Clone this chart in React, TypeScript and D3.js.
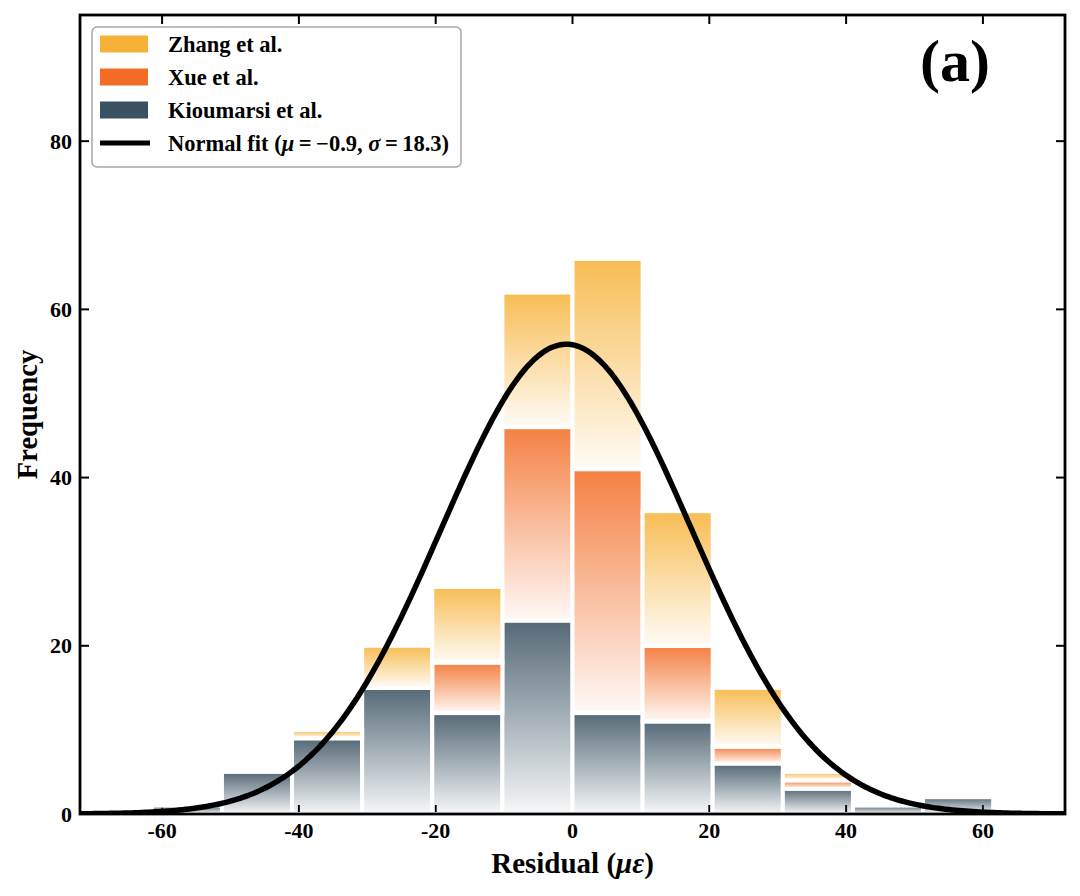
import * as d3 from "d3";

const WIDTH = 1080;
const HEIGHT = 896;
const MARGIN = { top: 15, right: 15, bottom: 82, left: 80 };

// bin edges of the histogram (12 bins)
const binEdges = [-61.5, -51.25, -41, -30.75, -20.5, -10.25, 0, 10.25, 20.5, 30.75, 41, 51.25, 61.5];
const kioumarsi = [1, 5, 9, 15, 12, 23, 12, 11, 6, 3, 1, 2];
const xue = [0, 0, 0, 0, 6, 23, 29, 9, 2, 1, 0, 0];
const zhang = [0, 0, 1, 5, 9, 16, 25, 16, 7, 1, 0, 0];

const seriesColors = ["#2F4858", "#F26419", "#F6AE2D"];

const xTicks = [-60, -40, -20, 0, 20, 40, 60];
const yTicks = [0, 20, 40, 60, 80];

const MU = -0.9;
const SIGMA = 18.3;

const FONT = "'Liberation Serif', 'Times New Roman', serif";
const THIN = "\u2009";

export default function App() {
  const boundsWidth = WIDTH - MARGIN.left - MARGIN.right;
  const boundsHeight = HEIGHT - MARGIN.top - MARGIN.bottom;

  const xScale = d3.scaleLinear().domain([-72, 72]).range([0, boundsWidth]);
  const yScale = d3.scaleLinear().domain([0, 95]).range([boundsHeight, 0]);

  const rows = kioumarsi.map((k, i) => ({ i, k, x: xue[i], z: zhang[i] }));
  const stack = d3.stack<{ i: number; k: number; x: number; z: number }>().keys(["k", "x", "z"])(rows);

  // normal fit scaled to counts
  const total = d3.sum(kioumarsi) + d3.sum(xue) + d3.sum(zhang);
  const binWidth = binEdges[1] - binEdges[0];
  const fitX = d3.range(-72, 72.01, 0.5);
  const fit = fitX.map((v) => [
    v,
    (total * binWidth) / (SIGMA * Math.sqrt(2 * Math.PI)) * Math.exp(-((v - MU) ** 2) / (2 * SIGMA * SIGMA)),
  ]);
  const line = d3
    .line<number[]>()
    .x((d) => xScale(d[0]))
    .y((d) => yScale(d[1]))
    .curve(d3.curveBasis);

  const bars = stack.map((layer, si) =>
    layer.map((seg, bi) => {
      if (seg[1] - seg[0] <= 0) return null;
      const x0 = xScale(binEdges[bi]);
      const x1 = xScale(binEdges[bi + 1]);
      return (
        <rect
          key={`${si}-${bi}`}
          x={x0}
          y={yScale(seg[1])}
          width={x1 - x0}
          height={yScale(seg[0]) - yScale(seg[1])}
          fill={`url(#grad${si})`}
          stroke="#fff"
          strokeWidth={4}
        />
      );
    })
  );

  const tickStyle = { stroke: "#000", strokeWidth: 2 };

  const legendItems = [
    { label: "Zhang et al.", color: seriesColors[2] },
    { label: "Xue et al.", color: seriesColors[1] },
    { label: "Kioumarsi et al.", color: seriesColors[0] },
  ];

  return (
    <div style={{ position: "absolute", left: 0, top: 0 }}>
      <svg width={WIDTH} height={HEIGHT} style={{ display: "block", background: "#fff" }}>
        <defs>
          {seriesColors.map((c, i) => (
            <linearGradient key={i} id={`grad${i}`} x1="0" y1="0" x2="0" y2="1">
              <stop offset="0%" stopColor={c} stopOpacity={0.82} />
              <stop offset="100%" stopColor={c} stopOpacity={0.04} />
            </linearGradient>
          ))}
          <clipPath id="plotClip">
            <rect x={0} y={0} width={boundsWidth} height={boundsHeight} />
          </clipPath>
        </defs>
        <g transform={`translate(${MARGIN.left}, ${MARGIN.top})`}>
          {/* inward ticks */}
          {xTicks.map((t) => (
            <g key={`xt${t}`}>
              <line x1={xScale(t)} x2={xScale(t)} y1={boundsHeight} y2={boundsHeight - 9} {...tickStyle} />
              <line x1={xScale(t)} x2={xScale(t)} y1={0} y2={9} {...tickStyle} />
              <text
                x={xScale(t)}
                y={boundsHeight + 24}
                textAnchor="middle"
                fontFamily={FONT}
                fontWeight="bold"
                fontSize={22}
              >
                {t}
              </text>
            </g>
          ))}
          {yTicks.map((t) => (
            <g key={`yt${t}`}>
              <line x1={0} x2={9} y1={yScale(t)} y2={yScale(t)} {...tickStyle} />
              <line x1={boundsWidth} x2={boundsWidth - 9} y1={yScale(t)} y2={yScale(t)} {...tickStyle} />
              <text
                x={-8}
                y={yScale(t)}
                textAnchor="end"
                dominantBaseline="central"
                fontFamily={FONT}
                fontWeight="bold"
                fontSize={22}
              >
                {t}
              </text>
            </g>
          ))}

          {bars}

          <path
            d={line(fit) || ""}
            fill="none"
            stroke="#000"
            strokeWidth={5.5}
            clipPath="url(#plotClip)"
          />

          <rect x={0} y={0} width={boundsWidth} height={boundsHeight} fill="none" stroke="#000" strokeWidth={2.8} />

          {/* legend */}
          <g transform="translate(12, 12)">
            <rect x={0} y={0} width={369} height={140} rx={5} fill="#fff" fillOpacity={0.85} stroke="#a8a8a8" strokeWidth={1.5} />
            {legendItems.map((d, i) => (
              <g key={d.label} transform={`translate(0, ${17 + i * 33})`}>
                <rect x={8} y={-8.5} width={48} height={17} fill={d.color} fillOpacity={0.95} />
                <text x={76} y={0} dominantBaseline="central" fontFamily={FONT} fontWeight="bold" fontSize={22.5}>
                  {d.label}
                </text>
              </g>
            ))}
            <g transform={`translate(0, ${17 + 3 * 33})`}>
              <line x1={8} x2={58} y1={0} y2={0} stroke="#000" strokeWidth={5} />
              <text x={76} y={0} dominantBaseline="central" fontFamily={FONT} fontWeight="bold" fontSize={22.5}>
                Normal fit (<tspan fontStyle="italic">μ</tspan>
                {`${THIN}=${THIN}−0.9, `}
                <tspan fontStyle="italic">σ</tspan>
                {`${THIN}=${THIN}18.3)`}
              </text>
            </g>
          </g>

          <text
            x={boundsWidth - 110}
            y={66}
            textAnchor="middle"
            fontFamily={FONT}
            fontWeight="bold"
            fontSize={60}
          >
            (a)
          </text>

          {/* axis labels */}
          <text
            x={xScale(0)}
            y={boundsHeight + 59}
            textAnchor="middle"
            fontFamily={FONT}
            fontWeight="bold"
            fontSize={29}
          >
            Residual (<tspan fontStyle="italic">με</tspan>)
          </text>
          <text
            transform={`translate(${-43}, ${boundsHeight / 2}) rotate(-90)`}
            textAnchor="middle"
            fontFamily={FONT}
            fontWeight="bold"
            fontSize={28.5}
          >
            Frequency
          </text>
        </g>
      </svg>
    </div>
  );
}
